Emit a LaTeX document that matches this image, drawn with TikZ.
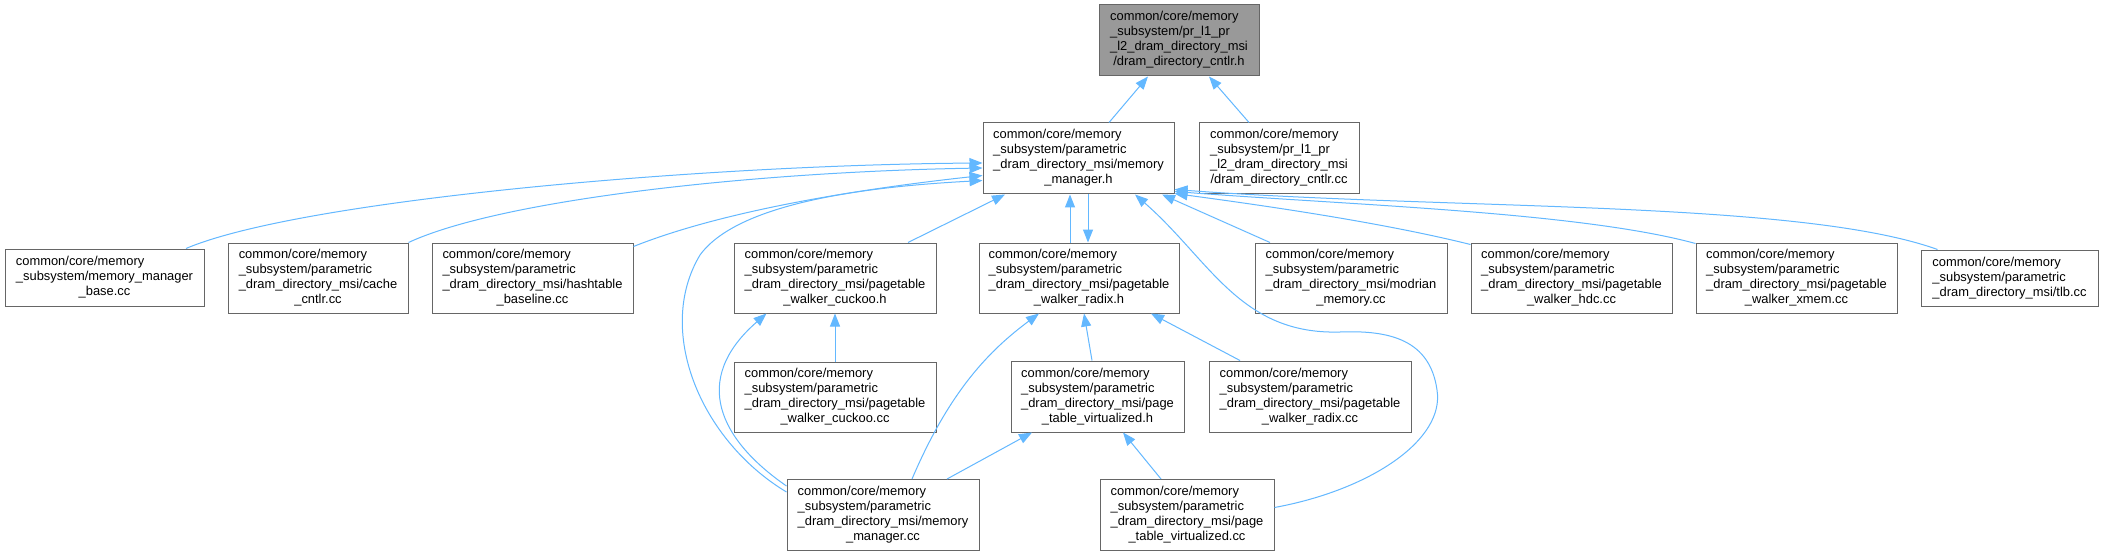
\documentclass[tikz,border=0pt]{standalone}
\usepackage{fontspec}
\setmainfont{Liberation Sans}
\usetikzlibrary{arrows.meta,calc}
\definecolor{edgeblue}{HTML}{63B8FF}
\definecolor{boxgray}{HTML}{666666}
\definecolor{topfill}{HTML}{999999}
\newcommand{\fourl}[4]{\begin{tabular}{@{}l@{}}#1\\#2\\#3\\\multicolumn{1}{@{}c@{}}{#4}\end{tabular}}
\newcommand{\threel}[3]{\begin{tabular}{@{}l@{}}#1\\#2\\\multicolumn{1}{@{}c@{}}{#3}\end{tabular}}
\begin{document}
\begin{tikzpicture}[x=1pt,y=-1pt,
  font=\fontsize{12.9}{15}\selectfont,
  box/.style={draw=boxgray, line width=1pt, fill=white, inner sep=0pt, minimum height=71pt},
  edge/.style={draw=edgeblue, line width=1pt, -{Triangle[length=13pt,width=10pt]}, edgeblue}]
\useasboundingbox (0,0) rectangle (2103,556);
\fill[white] (0,0) rectangle (2103,556);
% nodes
\node[box, fill=topfill, minimum width=160pt] (top) at (1179,40.5)
  {\fourl{common/core/memory}{\_subsystem/pr\_l1\_pr}{\_l2\_dram\_directory\_msi}{/dram\_directory\_cntlr.h}};
\node[box, minimum width=191pt] (mmh) at (1078.5,158.5)
  {\fourl{common/core/memory}{\_subsystem/parametric}{\_dram\_directory\_msi/memory}{\_manager.h}};
\node[box, minimum width=160pt] (dcc) at (1279,158.5)
  {\fourl{common/core/memory}{\_subsystem/pr\_l1\_pr}{\_l2\_dram\_directory\_msi}{/dram\_directory\_cntlr.cc}};
\node[box, minimum width=199pt, minimum height=57pt] (mmbase) at (104.5,277.5)
  {\threel{common/core/memory}{\_subsystem/memory\_manager}{\_base.cc}};
\node[box, minimum width=180pt, minimum height=70pt] (cache) at (318,278)
  {\fourl{common/core/memory}{\_subsystem/parametric}{\_dram\_directory\_msi/cache}{\_cntlr.cc}};
\node[box, minimum width=201pt, minimum height=70pt] (hash) at (532.5,278)
  {\fourl{common/core/memory}{\_subsystem/parametric}{\_dram\_directory\_msi/hashtable}{\_baseline.cc}};
\node[box, minimum width=202pt, minimum height=70pt] (cuckooh) at (835,278)
  {\fourl{common/core/memory}{\_subsystem/parametric}{\_dram\_directory\_msi/pagetable}{\_walker\_cuckoo.h}};
\node[box, minimum width=200pt, minimum height=70pt] (radixh) at (1079,278)
  {\fourl{common/core/memory}{\_subsystem/parametric}{\_dram\_directory\_msi/pagetable}{\_walker\_radix.h}};
\node[box, minimum width=192pt, minimum height=70pt] (modrian) at (1351,278)
  {\fourl{common/core/memory}{\_subsystem/parametric}{\_dram\_directory\_msi/modrian}{\_memory.cc}};
\node[box, minimum width=201pt, minimum height=70pt] (hdc) at (1571.5,278)
  {\fourl{common/core/memory}{\_subsystem/parametric}{\_dram\_directory\_msi/pagetable}{\_walker\_hdc.cc}};
\node[box, minimum width=201pt, minimum height=70pt] (xmem) at (1796.5,278)
  {\fourl{common/core/memory}{\_subsystem/parametric}{\_dram\_directory\_msi/pagetable}{\_walker\_xmem.cc}};
\node[box, minimum width=177pt, minimum height=56pt] (tlb) at (2009.5,278)
  {\threel{common/core/memory}{\_subsystem/parametric}{\_dram\_directory\_msi/tlb.cc}};
\node[box, minimum width=202pt, minimum height=70pt] (cuckoocc) at (835,397)
  {\fourl{common/core/memory}{\_subsystem/parametric}{\_dram\_directory\_msi/pagetable}{\_walker\_cuckoo.cc}};
\node[box, minimum width=173pt, minimum height=71pt] (ptvh) at (1097.5,396.5)
  {\fourl{common/core/memory}{\_subsystem/parametric}{\_dram\_directory\_msi/page}{\_table\_virtualized.h}};
\node[box, minimum width=202pt, minimum height=71pt] (radixcc) at (1310,396.5)
  {\fourl{common/core/memory}{\_subsystem/parametric}{\_dram\_directory\_msi/pagetable}{\_walker\_radix.cc}};
\node[box, minimum width=192pt, minimum height=71pt] (mmcc) at (883,515)
  {\fourl{common/core/memory}{\_subsystem/parametric}{\_dram\_directory\_msi/memory}{\_manager.cc}};
\node[box, minimum width=174pt, minimum height=71pt] (ptvcc) at (1187,515)
  {\fourl{common/core/memory}{\_subsystem/parametric}{\_dram\_directory\_msi/page}{\_table\_virtualized.cc}};
% edges
\draw[edge] ([xshift=30.5pt]mmh.north) -- ([xshift=-31pt]top.south);
\draw[edge] ([xshift=-30pt]dcc.north) -- ([xshift=30pt]top.south);
\draw[edge] ([xshift=81.5pt]mmbase.north) .. controls (300,200) and (700,165) .. ([yshift=-4.5pt]mmh.west);
\draw[edge] (cache.north east) .. controls (500,200) and (750,172) .. ([yshift=-9.5pt]mmh.west);
\draw[edge] ([yshift=-4pt]hash.north east) .. controls (720,212) and (850,190) .. ([yshift=-17pt]mmh.west);
\draw[edge] ([yshift=-13pt]mmcc.north west) .. controls (700,440) and (655,330) .. (700,255)
  .. controls (740,200) and (880,186) .. ([yshift=-22pt]mmh.west);
\draw[edge] ([yshift=-7pt]mmcc.north west) .. controls (720,440) and (690,380) .. ([xshift=33pt]cuckooh.south west);
\draw[edge] ([xshift=73pt]cuckooh.north) -- ([xshift=-73.5pt]mmh.south);
\draw[edge] ([xshift=-9pt]radixh.north) -- ([xshift=-8.5pt]mmh.south);
\draw[edge] ([xshift=9.5pt]mmh.south) -- ([xshift=9pt]radixh.north);
\draw[edge] ([yshift=7.5pt]ptvcc.east) .. controls (1370,490) and (1445,440) .. (1437,390)
  .. controls (1430,340) and (1390,330) .. (1340,332)
  .. controls (1240,335) and (1210,260) .. ([xshift=56.5pt]mmh.south);
\draw[edge] ([xshift=-81pt]modrian.north) -- ([xshift=83.5pt]mmh.south);
\draw[edge] ([yshift=-2pt]hdc.north west) .. controls (1380,222) and (1260,205) .. ([yshift=1pt]mmh.south east);
\draw[edge] ([yshift=-1pt]xmem.north west) .. controls (1580,212) and (1350,205) .. ([yshift=3pt]mmh.south east);
\draw[edge] ([xshift=17pt]tlb.north west) .. controls (1800,200) and (1450,210) .. ([yshift=5pt]mmh.south east);
\draw[edge] (cuckoocc.north) -- (cuckooh.south);
\draw[edge] ([xshift=29pt]mmcc.north) .. controls (950,390) and (990,350) .. ([xshift=-40pt]radixh.south);
\draw[edge] ([xshift=-5.5pt]ptvh.north) -- ([xshift=5pt]radixh.south);
\draw[edge] ([xshift=-70pt]radixcc.north) -- ([xshift=72pt]radixh.south);
\draw[edge] ([xshift=64pt]mmcc.north) -- ([xshift=-65.5pt]ptvh.south);
\draw[edge] ([xshift=-26pt]ptvcc.north) -- ([xshift=25.5pt]ptvh.south);
\end{tikzpicture}
\end{document}
